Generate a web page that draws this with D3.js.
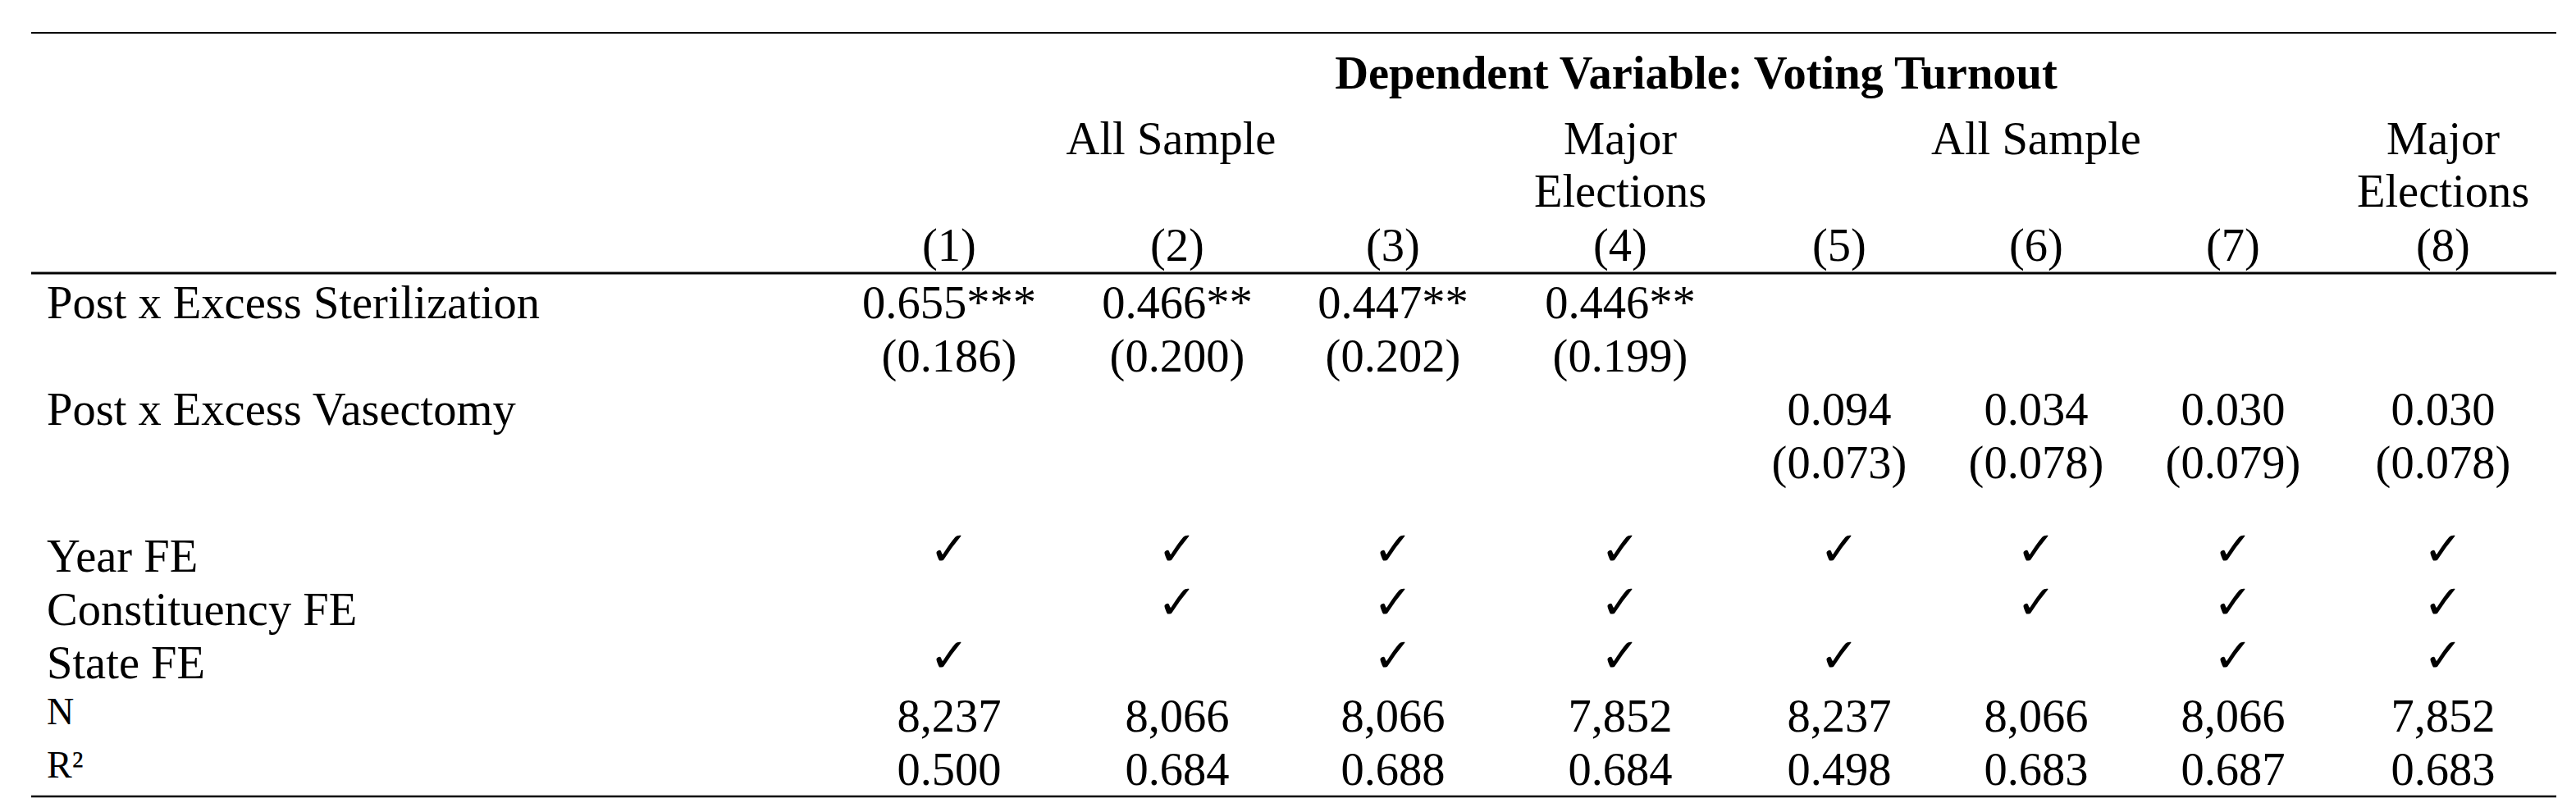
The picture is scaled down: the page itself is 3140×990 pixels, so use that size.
<!DOCTYPE html>
<html>
<head>
<meta charset="utf-8">
<script src="https://cdn.jsdelivr.net/npm/d3@7"></script>
<style>
  html, body { margin: 0; padding: 0; background: #fff; }
  text { font-family: "Liberation Serif", "Times New Roman", serif; fill: #000; }
  .check { font-family: "DejaVu Sans", sans-serif; font-weight: bold; }
</style>
</head>
<body>
<div id="table"></div>
<script>
// regression table values
var models = ["(1)", "(2)", "(3)", "(4)", "(5)", "(6)", "(7)", "(8)"];
var depVarTitle = "Dependent Variable: Voting Turnout";
var sampleGroups = [
  { label: ["All Sample"], first: 0, last: 2 },
  { label: ["Major", "Elections"], first: 3, last: 3 },
  { label: ["All Sample"], first: 4, last: 6 },
  { label: ["Major", "Elections"], first: 7, last: 7 }
];
var sterilEst = [0.655, 0.466, 0.447, 0.446, null, null, null, null];
var sterilSE = [0.186, 0.200, 0.202, 0.199, null, null, null, null];
var sterilStars = [3, 2, 2, 2, 0, 0, 0, 0];
var vasecEst = [null, null, null, null, 0.094, 0.034, 0.030, 0.030];
var vasecSE = [null, null, null, null, 0.073, 0.078, 0.079, 0.078];
var vasecStars = [0, 0, 0, 0, 0, 0, 0, 0];
var yearFE = [1, 1, 1, 1, 1, 1, 1, 1];
var constituencyFE = [0, 1, 1, 1, 0, 1, 1, 1];
var stateFE = [1, 0, 1, 1, 1, 0, 1, 1];
var obsN = [8237, 8066, 8066, 7852, 8237, 8066, 8066, 7852];
var rSquared = [0.500, 0.684, 0.688, 0.684, 0.498, 0.683, 0.687, 0.683];

(function() {
  var W = 3140, H = 990;
  var fs = 56.5;
  var stubX = 57;
  var ruleX = [38, 3116];
  var f3 = d3.format(".3f"), fN = d3.format(",");

  var colX = d3.scaleOrdinal().domain(models).range([1157, 1435, 1698, 1975, 2242, 2482, 2722, 2978]);
  // body row index -> baseline
  var rowY = d3.scaleLinear().domain([0, 1]).range([388, 453]);

  var svg = d3.select("#table").append("svg:svg").attr("width", W).attr("height", H);
  svg.append("svg:rect").attr("width", W).attr("height", H).attr("fill", "#fff");

  // rules
  var rules = [{ y: 40, w: 2.2 }, { y: 333, w: 3.2 }, { y: 971, w: 2.4 }];
  svg.selectAll("line.rule").data(rules).enter().append("svg:line").attr("class", "rule")
    .attr("x1", ruleX[0]).attr("x2", ruleX[1])
    .attr("y1", function(d) { return d.y; }).attr("y2", function(d) { return d.y; })
    .attr("stroke", "#000").attr("stroke-width", function(d) { return d.w; });

  // header
  var allMid = (colX(models[0]) + colX(models[models.length - 1])) / 2;
  svg.append("svg:text").attr("x", allMid).attr("y", 108).attr("text-anchor", "middle")
    .attr("font-weight", "bold").attr("font-size", fs).text(depVarTitle);

  var grp = svg.selectAll("text.group").data(sampleGroups).enter().append("svg:text").attr("class", "group")
    .attr("text-anchor", "middle").attr("font-size", fs)
    .attr("transform", function(d) {
      return "translate(" + (colX(models[d.first]) + colX(models[d.last])) / 2 + ",188)";
    });
  grp.selectAll("tspan").data(function(d) { return d.label; }).enter().append("svg:tspan")
    .attr("x", 0).attr("y", function(d, i) { return i * 64; }).text(function(d) { return d; });

  svg.selectAll("text.model").data(models).enter().append("svg:text").attr("class", "model")
    .attr("x", function(d) { return colX(d); }).attr("y", 318)
    .attr("text-anchor", "middle").attr("font-size", fs).text(function(d) { return d; });

  // stub labels
  var stub = [
    { t: "Post x Excess Sterilization", r: 0 },
    { t: "Post x Excess Vasectomy", r: 2 },
    { t: "Year FE", r: 4.75 },
    { t: "Constituency FE", r: 5.75 },
    { t: "State FE", r: 6.75 },
    { t: "N", r: 7.75, small: true },
    { t: "R\u00b2", r: 8.75, small: true }
  ];
  svg.selectAll("text.stub").data(stub).enter().append("svg:text").attr("class", "stub")
    .attr("x", stubX).attr("y", function(d) { return rowY(d.r) - (d.small ? 9 : 0); })
    .attr("font-size", function(d) { return d.small ? 46 : fs; }).text(function(d) { return d.t; });

  function starStr(n) { return n > 0 ? d3.range(n).map(function() { return "*"; }).join("") : ""; }

  var cells = [];
  models.forEach(function(m, i) {
    if (sterilEst[i] != null) {
      cells.push({ m: m, r: 0, t: f3(sterilEst[i]) + starStr(sterilStars[i]) });
      cells.push({ m: m, r: 1, t: "(" + f3(sterilSE[i]) + ")" });
    }
    if (vasecEst[i] != null) {
      cells.push({ m: m, r: 2, t: f3(vasecEst[i]) + starStr(vasecStars[i]) });
      cells.push({ m: m, r: 3, t: "(" + f3(vasecSE[i]) + ")" });
    }
    cells.push({ m: m, r: 7.75, t: fN(obsN[i]) });
    cells.push({ m: m, r: 8.75, t: f3(rSquared[i]) });
  });
  svg.selectAll("text.cell").data(cells).enter().append("svg:text").attr("class", "cell")
    .attr("x", function(d) { return colX(d.m); }).attr("y", function(d) { return rowY(d.r); })
    .attr("text-anchor", "middle").attr("font-size", fs).text(function(d) { return d.t; });

  var checks = [];
  [[yearFE, 4.75], [constituencyFE, 5.75], [stateFE, 6.75]].forEach(function(p) {
    p[0].forEach(function(v, i) { if (v) checks.push({ m: models[i], r: p[1] }); });
  });
  svg.selectAll("text.check").data(checks).enter().append("svg:text").attr("class", "check")
    .attr("x", function(d) { return colX(d.m); }).attr("y", function(d) { return rowY(d.r) - 8; })
    .attr("text-anchor", "middle").attr("font-size", 58).text("\u2713");
})();
</script>
</body>
</html>
